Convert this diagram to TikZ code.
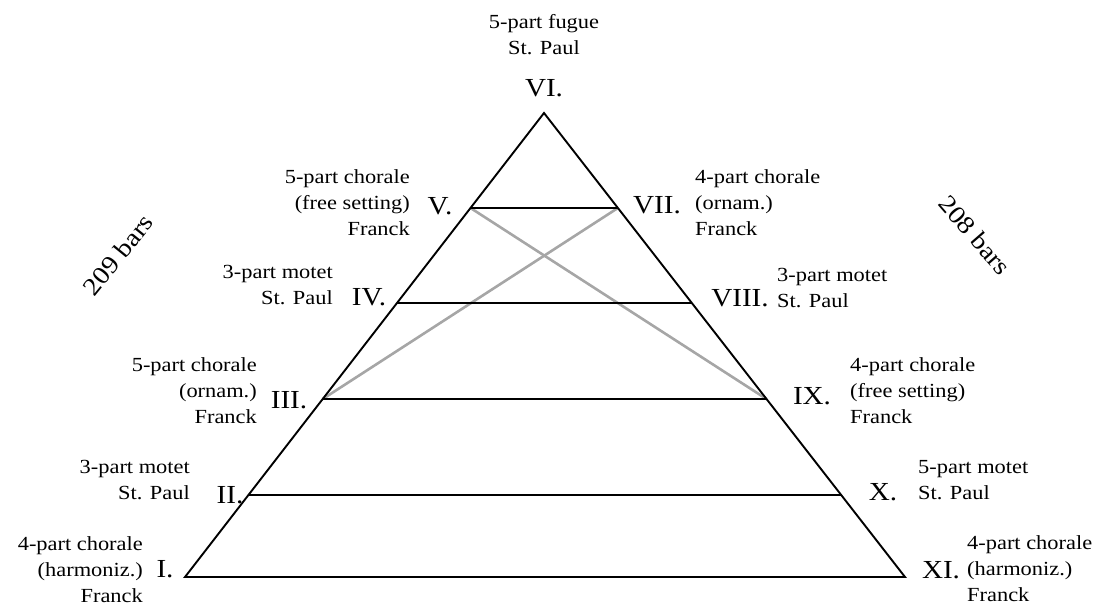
\documentclass[tikz,border=0pt]{standalone}
\usepackage{fontspec}
\setmainfont{Liberation Serif}[FakeStretch=1.12]
\usepackage{tikz}
\usetikzlibrary{calc}
\definecolor{Cross}{HTML}{A6A6A6}

\begin{document}
\begin{tikzpicture}[x=1pt,y=-1pt,
  edge/.style={line width=1.9pt},
  cross/.style={line width=2.6pt,Cross},
  num/.style={inner sep=0pt,font=\fontsize{26}{30}\selectfont},
  work/.style={inner sep=0pt,font=\fontsize{20}{26}\selectfont},
  total/.style={inner sep=0pt,font=\fontsize{25}{30}\selectfont}]
  \useasboundingbox (0,0) rectangle (1101,605);
  % corners of the arch
  \coordinate (apex) at (544,113);
  \coordinate (bl) at (185,577);
  \coordinate (br) at (905,577);
  % levels
  \coordinate (l5) at ($(apex)!0.2047!(bl)$);
  \coordinate (r5) at ($(apex)!0.2047!(br)$);
  \coordinate (l4) at ($(apex)!0.4095!(bl)$);
  \coordinate (r4) at ($(apex)!0.4095!(br)$);
  \coordinate (l3) at ($(apex)!0.6164!(bl)$);
  \coordinate (r3) at ($(apex)!0.6164!(br)$);
  \coordinate (l2) at ($(apex)!0.8233!(bl)$);
  \coordinate (r2) at ($(apex)!0.8233!(br)$);

  \draw[cross] (l5) -- (r3);
  \draw[cross] (r5) -- (l3);
  \draw[edge] (apex) -- (bl) -- (br) -- cycle;
  \draw[edge] (l5) -- (r5);
  \draw[edge] (l4) -- (r4);
  \draw[edge] (l3) -- (r3);
  \draw[edge] (l2) -- (r2);

  % numerals
  \node[num] (n6) at (544,88) {VI.};
  \node[num] (n5) at (440,206) {V.};
  \node[num] (n7) at (657,205) {VII.};
  \node[num] (n4) at (369,297) {IV.};
  \node[num] (n8) at (740,298) {VIII.};
  \node[num] (n3) at (289,400) {III.};
  \node[num] (n9) at (812,396) {IX.};
  \node[num] (n2) at (230,495) {II.};
  \node[num] (n10) at (883,492) {X.};
  \node[num] (n1) at (165,569) {I.};
  \node[num] (n11) at (941,570) {XI.};

  % works
  \node[work,align=center] (w6) at (544,35) {5-part fugue\\St. Paul};
  \node[work,align=right,anchor=east] (w5) at (410,203) {5-part chorale\\(free setting)\\Franck};
  \node[work,align=left,anchor=west] (w7) at (695,203) {4-part chorale\\(ornam.)\\Franck};
  \node[work,align=right,anchor=east] (w4) at (333,285) {3-part motet\\St. Paul};
  \node[work,align=left,anchor=west] (w8) at (777,288) {3-part motet\\St. Paul};
  \node[work,align=right,anchor=east] (w3) at (257,391) {5-part chorale\\(ornam.)\\Franck};
  \node[work,align=left,anchor=west] (w9) at (850,391) {4-part chorale\\(free setting)\\Franck};
  \node[work,align=right,anchor=east] (w2) at (190,480) {3-part motet\\St. Paul};
  \node[work,align=left,anchor=west] (w10) at (918,480) {5-part motet\\St. Paul};
  \node[work,align=right,anchor=east] (w1) at (143,570) {4-part chorale\\(harmoniz.)\\Franck};
  \node[work,align=left,anchor=west] (w11) at (967,569) {4-part chorale\\(harmoniz.)\\Franck};

  % totals
  \node[total,rotate=51] (left) at (118,255) {209 bars};
  \node[total,rotate=-49] (right) at (975,235) {208 bars};
\end{tikzpicture}
\end{document}
